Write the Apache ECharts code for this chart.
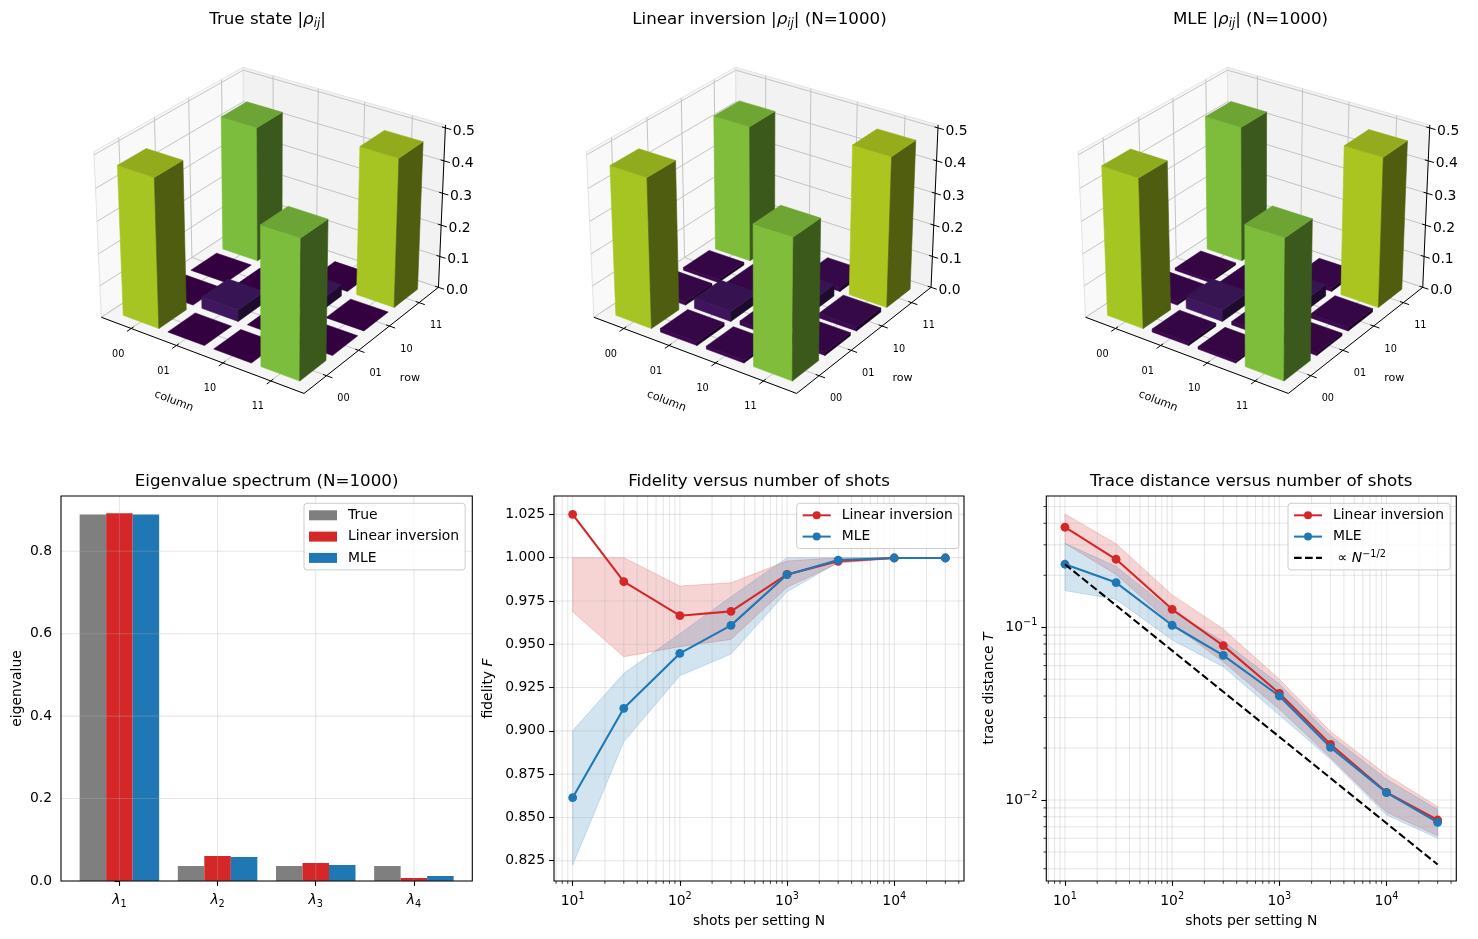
<!DOCTYPE html>
<html>
<head>
<meta charset="utf-8">
<script src="https://cdn.jsdelivr.net/npm/echarts@6.0.0/dist/echarts.min.js"></script>
<style>
html,body{margin:0;padding:0;background:#fff;}
#chart{width:1478px;height:939px;}
</style>
</head>
<body>
<div id="chart"></div>
<script>
// ================= DATA =================
const basisLabels = ['00', '01', '10', '11'];
// |rho_ij|, rows = row index, columns = column index
const rhoTrue = [
  [0.4635, 0.0, 0.0, 0.427],
  [0.0, 0.0364, 0.0, 0.0],
  [0.0, 0.0, 0.0364, 0.0],
  [0.427, 0.0, 0.0, 0.4635]
];
const rhoLin = [
  [0.463, 0.011, 0.009, 0.430],
  [0.011, 0.032, 0.012, 0.010],
  [0.009, 0.012, 0.037, 0.013],
  [0.430, 0.010, 0.013, 0.468]
];
const rhoMle = [
  [0.462, 0.009, 0.007, 0.428],
  [0.009, 0.036, 0.010, 0.008],
  [0.007, 0.010, 0.036, 0.011],
  [0.428, 0.008, 0.011, 0.466]
];
const zTickValues = [0, 0.1, 0.2, 0.3, 0.4, 0.5];

const eigLabels = ['1', '2', '3', '4'];
const eigTrue = [0.889, 0.0364, 0.0364, 0.0364];
const eigLin = [0.892, 0.0607, 0.0437, 0.0073];
const eigMle = [0.889, 0.0583, 0.0389, 0.0121];
const eigTicks = [0, 0.2, 0.4, 0.6, 0.8];

const shots = [10, 30, 100, 300, 1000, 3000, 10000, 30000];
const fidLin   = [1.025, 0.9861, 0.9665, 0.9690, 0.9903, 0.9979, 0.9998, 0.9998];
const fidLinLo = [0.9688, 0.9428, 0.9486, 0.9528, 0.9829, 0.9968, 0.9995, 0.9997];
const fidLinHi = [1.000, 1.000, 0.9836, 0.9855, 0.9980, 1.000, 1.000, 1.000];
const fidMle   = [0.8614, 0.9130, 0.9447, 0.9609, 0.9902, 0.9986, 0.9998, 0.9998];
const fidMleLo = [0.8225, 0.8937, 0.9318, 0.9443, 0.9803, 0.9972, 0.9995, 0.9997];
const fidMleHi = [0.9001, 0.9332, 0.9561, 0.9774, 1.000, 1.000, 1.000, 1.000];
const fidTicks = [0.825, 0.850, 0.875, 0.900, 0.925, 0.950, 0.975, 1.000, 1.025];

const trLin   = [0.3795, 0.2476, 0.1271, 0.0783, 0.04147, 0.02101, 0.01108, 0.00766];
const trLinLo = [0.305, 0.202, 0.104, 0.063, 0.0335, 0.0176, 0.0085, 0.0062];
const trLinHi = [0.453, 0.304, 0.154, 0.0977, 0.0500, 0.0249, 0.0140, 0.00915];
const trMle   = [0.2317, 0.1814, 0.1027, 0.0688, 0.0400, 0.02018, 0.01103, 0.00743];
const trMleLo = [0.163, 0.145, 0.0844, 0.0591, 0.0310, 0.0172, 0.0082, 0.0060];
const trMleHi = [0.306, 0.225, 0.124, 0.083, 0.0470, 0.0236, 0.0132, 0.0088];
const trRef   = [0.2317, 0.1338, 0.0733, 0.0423, 0.0232, 0.0134, 0.00733, 0.00423];

const shotMajor = [10, 100, 1000, 10000];
const shotMinor = [7, 8, 9, 20, 30, 40, 50, 60, 70, 80, 90, 200, 300, 400, 500, 600, 700, 800, 900,
  2000, 3000, 4000, 5000, 6000, 7000, 8000, 9000, 20000, 30000, 40000];
const trMajor = [0.01, 0.1];
const trMinor = [0.004, 0.005, 0.006, 0.007, 0.008, 0.009, 0.02, 0.03, 0.04, 0.05, 0.06, 0.07, 0.08, 0.09,
  0.2, 0.3, 0.4, 0.5];

// ================= STYLE / LAYOUT =================
const FONT = 'DejaVu Sans';
const RED = '#d62728', BLUE = '#1f77b4', GRAY = '#7f7f7f';
const GRID_C = 'rgba(176,176,176,0.3)';
const L10 = Math.log10;
const VIEW = { elev: 28, azim: -55, dist: 10, aspect: [1.143, 1.143, 0.878], k: 207.5, cy: 223.3, cx: [272, 764.6, 1256.3] };
const XYLIM = [-0.59, 3.59], ZLIM = [0, 0.5];
const XYPAD = [-0.677, 3.677], ZPAD = [0, 0.509];
const BAR_HALF = 0.4;
const CNORM = 0.515;
const EIG_W = 0.27;
const DASH_ICON = 'path://M0,0L0.02,0L0.02,0.02Z M0,10L0.02,10L0.02,9.98Z M0,3.96H7.7V6.04H0Z M11,3.96H18.7V6.04H11Z M22,3.96H28V6.04H22Z';

const VIRIDIS = ['#440154', '#471365', '#482475', '#463480', '#414487', '#3b528b', '#355f8d', '#2f6c8e', '#2a788e', '#25848e',
  '#21918c', '#1e9c89', '#22a884', '#2fb47c', '#44bf70', '#5ec962', '#7ad151', '#9bd93c', '#bddf26', '#dfe318', '#fde725'];
function hex2rgb(h) { return [parseInt(h.substr(1, 2), 16), parseInt(h.substr(3, 2), 16), parseInt(h.substr(5, 2), 16)]; }
function viridis(t) {
  t = Math.max(0, Math.min(1, t));
  const f = t * 20, i = Math.min(19, Math.floor(f)), r = f - i;
  const a = hex2rgb(VIRIDIS[i]), b = hex2rgb(VIRIDIS[i + 1]);
  return [0, 1, 2].map(j => a[j] + (b[j] - a[j]) * r);
}
function shade(rgb, k) { return 'rgb(' + rgb.map(c => Math.round(c * k)).join(',') + ')'; }

function projector(cx) {
  const e = VIEW.elev * Math.PI / 180, a = VIEW.azim * Math.PI / 180;
  const w = [Math.cos(e) * Math.cos(a), Math.cos(e) * Math.sin(a), Math.sin(e)];
  const u = [-Math.sin(a), Math.cos(a), 0];
  const v = [-Math.sin(e) * Math.cos(a), -Math.sin(e) * Math.sin(a), Math.cos(e)];
  const A = VIEW.aspect;
  return function (x, y, z) {
    const p = [(x - XYLIM[0]) / (XYLIM[1] - XYLIM[0]) * A[0] - A[0] / 2,
               (y - XYLIM[0]) / (XYLIM[1] - XYLIM[0]) * A[1] - A[1] / 2,
               (z - ZLIM[0]) / (ZLIM[1] - ZLIM[0]) * A[2] - A[2] / 2];
    const du = u[0] * p[0] + u[1] * p[1] + u[2] * p[2];
    const dv = v[0] * p[0] + v[1] * p[1] + v[2] * p[2];
    const dw = w[0] * p[0] + w[1] * p[1] + w[2] * p[2];
    const s = 1 - dw / VIEW.dist;
    return [cx + VIEW.k * du / s, VIEW.cy - VIEW.k * dv / s, dw];
  };
}

function textEl(x, y, text, size, rot, extra) {
  const st = Object.assign({ text: text, fill: '#000', fontSize: size, fontFamily: FONT,
    align: 'center', verticalAlign: 'middle', textAlign: 'center', textVerticalAlign: 'middle' }, extra || {});
  return { type: 'text', x: x, y: y, rotation: rot || 0, style: st };
}

function frameRender(proj) {
  return function () {
    const P = (x, y, z) => { const q = proj(x, y, z); return [q[0], q[1]]; };
    const X0 = XYPAD[0], X1 = XYPAD[1], Y0 = XYPAD[0], Y1 = XYPAD[1], Z0 = ZPAD[0], Z1 = ZPAD[1];
    const ch = [];
    const poly = (pts, fill) => ch.push({ type: 'polygon', shape: { points: pts }, style: { fill: fill, stroke: '#e4e4e4', lineWidth: 1 } });
    const seg = (a, b, stroke, lw) => ch.push({ type: 'line', shape: { x1: a[0], y1: a[1], x2: b[0], y2: b[1] }, style: { stroke: stroke, lineWidth: lw } });
    poly([P(X0, Y0, Z0), P(X1, Y0, Z0), P(X1, Y1, Z0), P(X0, Y1, Z0)], '#f5f5f5');
    poly([P(X0, Y0, Z0), P(X0, Y1, Z0), P(X0, Y1, Z1), P(X0, Y0, Z1)], '#f9f9f9');
    poly([P(X0, Y1, Z0), P(X1, Y1, Z0), P(X1, Y1, Z1), P(X0, Y1, Z1)], '#f2f2f2');
    const GC = '#c4c4c4';
    const ticks = basisLabels.map((_, i) => i);
    ticks.forEach(t => {
      seg(P(t, Y0, Z0), P(t, Y1, Z0), GC, 1);
      seg(P(X0, t, Z0), P(X1, t, Z0), GC, 1);
      seg(P(X0, t, Z0), P(X0, t, Z1), GC, 1);
      seg(P(t, Y1, Z0), P(t, Y1, Z1), GC, 1);
    });
    zTickValues.forEach(z => {
      seg(P(X0, Y0, z), P(X0, Y1, z), GC, 1);
      seg(P(X0, Y1, z), P(X1, Y1, z), GC, 1);
    });
    // axis lines
    seg(P(X0, Y0, Z0), P(X1, Y0, Z0), '#000', 1);
    seg(P(X1, Y0, Z0), P(X1, Y1, Z0), '#000', 1);
    seg(P(X1, Y1, Z0), P(X1, Y1, Z1), '#000', 1);
    // ticks + labels
    ticks.forEach(t => {
      seg(P(t, Y0 + 0.07, Z0), P(t, Y0 - 0.12, Z0), '#000', 1);
      const pc = P(t, Y0, Z0);
      ch.push(textEl(pc[0] - 13, pc[1] + 25.5, basisLabels[t], 9.7));
      seg(P(X1 - 0.07, t, Z0), P(X1 + 0.12, t, Z0), '#000', 1);
      const pr = P(X1, t, Z0);
      ch.push(textEl(pr[0] + 17, pr[1] + 23, basisLabels[t], 9.7));
    });
    zTickValues.forEach(z => {
      seg(P(X1 - 0.07, Y1, z), P(X1 + 0.12, Y1, z), '#000', 1);
      const pz = P(X1, Y1, z);
      ch.push(textEl(pz[0] + 18.5, pz[1] + 3, z.toFixed(1), 13.9));
    });
    const mc = P(1.5, Y0, Z0);
    ch.push(textEl(mc[0] - 25.7, mc[1] + 47, 'column', 11.1, -21 * Math.PI / 180));
    const mr = P(X1, 1.5, Z0);
    ch.push(textEl(mr[0] + 35.8, mr[1] + 40.2, 'row', 11.1));
    return { type: 'group', children: ch };
  };
}

function barsRender(proj) {
  return function (params, api) {
    const c = api.value(0), r = api.value(1), h = api.value(2);
    const x0 = c - BAR_HALF, x1 = c + BAR_HALF, y0 = r - BAR_HALF, y1 = r + BAR_HALF;
    const base = viridis(h / CNORM);
    const P = (x, y, z) => { const q = proj(x, y, z); return [q[0], q[1]]; };
    const faces = [];
    const face = (pts, k) => { const col = shade(base, k); faces.push({ type: 'polygon', shape: { points: pts }, style: { fill: col, stroke: col, lineWidth: 0.6 } }); };
    if (h > 0) {
      face([P(x0, y0, 0), P(x1, y0, 0), P(x1, y0, h), P(x0, y0, h)], 0.883);
      face([P(x1, y0, 0), P(x1, y1, 0), P(x1, y1, h), P(x1, y0, h)], 0.417);
    }
    face([P(x0, y0, h), P(x1, y0, h), P(x1, y1, h), P(x0, y1, h)], 0.767);
    faces.forEach((f, i) => { f.z2 = params.dataIndex * 4 + i; });
    return { type: 'group', children: faces };
  };
}

// 2D helpers
function decoRender(params, api) {
  const cs = params.coordSys;
  const kind = api.value(2);
  const pt = api.coord([api.value(0), api.value(1)]);
  const ch = [];
  const L = (x1, y1, x2, y2, stroke, lw) => ch.push({ type: 'line', shape: { x1, y1, x2, y2 }, style: { stroke: stroke, lineWidth: lw } });
  if (kind < 2) {
    const x = pt[0];
    L(x, cs.y, x, cs.y + cs.height, GRID_C, 1.1);
    if (kind === 1) L(x, cs.y + cs.height, x, cs.y + cs.height + 2.8, '#000', 0.8);
  } else {
    const y = pt[1];
    L(cs.x, y, cs.x + cs.width, y, GRID_C, 1.1);
    if (kind === 3) L(cs.x - 2.8, y, cs.x, y, '#000', 0.8);
  }
  return { type: 'group', children: ch };
}
function frame2dRender(params) {
  if (params.dataIndexInside !== 0) return;
  const cs = params.coordSys;
  return { type: 'rect', shape: { x: cs.x, y: cs.y, width: cs.width, height: cs.height }, style: { fill: 'none', stroke: '#000', lineWidth: 1.1 } };
}
function bandRender(color) {
  return function (params, api) {
    if (params.dataIndexInside !== 0) return;
    const n = params.dataInsideLength;
    const top = [], bot = [];
    for (let j = 0; j < n; j++) {
      const x = api.value(0, j);
      top.push(api.coord([x, api.value(2, j)]));
      bot.push(api.coord([x, api.value(1, j)]));
    }
    return { type: 'polygon', shape: { points: top.concat(bot.reverse()) }, style: { fill: color, stroke: color, lineWidth: 1 } };
  };
}
function eigBarRender(offset, color) {
  return function (params, api) {
    const i = api.value(0), v = api.value(1);
    const a = api.coord([i + offset - EIG_W / 2, v]);
    const b = api.coord([i + offset + EIG_W / 2, 0]);
    return { type: 'rect', shape: { x: a[0], y: a[1], width: b[0] - a[0], height: b[1] - a[1] }, style: { fill: color } };
  };
}

// ================= SERIES =================
const series = [];
[rhoTrue, rhoLin, rhoMle].forEach((rho, p) => {
  const proj = projector(VIEW.cx[p]);
  series.push({ type: 'custom', coordinateSystem: 'none', silent: true, z: 1, data: [[0]], renderItem: frameRender(proj) });
  const items = [];
  rho.forEach((row, r) => row.forEach((val, c) => items.push([c, r, val])));
  items.sort((a, b) => proj(a[0], a[1], 0)[2] - proj(b[0], b[1], 0)[2]);
  series.push({ type: 'custom', coordinateSystem: 'none', silent: true, z: 2, data: items, renderItem: barsRender(proj) });
});

function deco(gi, vMaj, vMin, hMaj, hMin, xRef, yRef) {
  const d = [];
  vMaj.forEach(v => d.push([v, yRef, 0]));
  vMin.forEach(v => d.push([v, yRef, 1]));
  hMaj.forEach(v => d.push([xRef, v, 2]));
  hMin.forEach(v => d.push([xRef, v, 3]));
  series.push({ type: 'custom', xAxisIndex: gi, yAxisIndex: gi, silent: true, z: 3, data: d, renderItem: decoRender });
  series.push({ type: 'custom', xAxisIndex: gi, yAxisIndex: gi, silent: true, z: 6, data: [[xRef, yRef]], renderItem: frame2dRender });
}

// eigenvalue bars
[[eigTrue, -EIG_W, GRAY, 'True#b'], [eigLin, 0, RED, 'Linear inversion#b'], [eigMle, EIG_W, BLUE, 'MLE#b']].forEach(s => {
  series.push({ type: 'custom', name: s[3], xAxisIndex: 0, yAxisIndex: 0, silent: true, z: 2, itemStyle: { color: s[2] },
    data: s[0].map((v, i) => [i, v]), renderItem: eigBarRender(s[1], s[2]) });
});
deco(0, eigLabels.map((_, i) => i), [], eigTicks, [], 1.5, 0.5);

// fidelity
const lx = shots.map(n => L10(n));
series.push({ type: 'custom', xAxisIndex: 1, yAxisIndex: 1, silent: true, z: 1, encode: { x: 0, y: [1, 2] },
  data: lx.map((x, i) => [x, fidLinLo[i], fidLinHi[i]]), renderItem: bandRender('rgba(214,39,40,0.2)') });
series.push({ type: 'custom', xAxisIndex: 1, yAxisIndex: 1, silent: true, z: 1, encode: { x: 0, y: [1, 2] },
  data: lx.map((x, i) => [x, fidMleLo[i], fidMleHi[i]]), renderItem: bandRender('rgba(31,119,180,0.2)') });
deco(1, shotMajor.map(L10), shotMinor.map(L10), fidTicks, [], 2.5, 0.9);
const lineBase = (name, xi, data, color) => ({ type: 'line', name: name, xAxisIndex: xi, yAxisIndex: xi, z: 4, silent: true,
  data: data, symbol: 'circle', symbolSize: 8.8, showSymbol: true, color: color,
  itemStyle: { color: color }, lineStyle: { color: color, width: 2.08 }, emphasis: { disabled: true } });
series.push(lineBase('Linear inversion#f', 1, lx.map((x, i) => [x, fidLin[i]]), RED));
series.push(lineBase('MLE#f', 1, lx.map((x, i) => [x, fidMle[i]]), BLUE));

// trace distance
series.push({ type: 'custom', xAxisIndex: 2, yAxisIndex: 2, silent: true, z: 1, encode: { x: 0, y: [1, 2] },
  data: lx.map((x, i) => [x, L10(trLinLo[i]), L10(trLinHi[i])]), renderItem: bandRender('rgba(214,39,40,0.2)') });
series.push({ type: 'custom', xAxisIndex: 2, yAxisIndex: 2, silent: true, z: 1, encode: { x: 0, y: [1, 2] },
  data: lx.map((x, i) => [x, L10(trMleLo[i]), L10(trMleHi[i])]), renderItem: bandRender('rgba(31,119,180,0.2)') });
deco(2, shotMajor.map(L10), shotMinor.map(L10), trMajor.map(L10), trMinor.map(L10), 2.5, -1.5);
series.push(lineBase('Linear inversion#t', 2, lx.map((x, i) => [x, L10(trLin[i])]), RED));
series.push(lineBase('MLE#t', 2, lx.map((x, i) => [x, L10(trMle[i])]), BLUE));
series.push({ type: 'line', name: 'ref#t', xAxisIndex: 2, yAxisIndex: 2, z: 5, silent: true, symbol: 'none', showSymbol: false, color: '#000',
  itemStyle: { color: '#000' },
  data: lx.map((x, i) => [x, L10(trRef[i])]), lineStyle: { color: '#000', width: 2.08, type: [7.7, 3.3] }, emphasis: { disabled: true } });

// ================= AXES =================
const tickLbl = { color: '#000', fontSize: 13.9, fontFamily: FONT };
const supRich = { b: { fontSize: 13.9, fontFamily: FONT, color: '#000' }, s: { fontSize: 9.7, fontFamily: FONT, color: '#000', padding: [0, 0, 10, 0] } };
function axisCommon(extra) {
  return Object.assign({
    axisLine: { show: false },
    splitLine: { show: false },
    axisTick: { show: true, length: 4.9, lineStyle: { color: '#000', width: 1.1 } },
    axisLabel: Object.assign({ margin: 9 }, tickLbl)
  }, extra);
}
const gridDefs = [
  { left: 61, top: 496, width: 411.3, height: 385 },
  { left: 554, top: 496, width: 410, height: 385 },
  { left: 1046.3, top: 496, width: 410, height: 385 }
].map(g => Object.assign({ containLabel: false, outerBoundsMode: 'none', show: false }, g));

const xAxes = [
  axisCommon({ type: 'value', gridIndex: 0, min: -0.595, max: 3.595,
    axisTick: { show: true, length: 4.9, lineStyle: { color: '#000', width: 1.1 }, customValues: eigLabels.map((_, i) => i) },
    axisLabel: { margin: 10, customValues: eigLabels.map((_, i) => i),
      formatter: v => '{l|λ}{s|' + eigLabels[Math.round(v)] + '}',
      rich: { l: { fontSize: 13.9, fontFamily: FONT, fontStyle: 'italic', color: '#000' },
              s: { fontSize: 9.7, fontFamily: FONT, color: '#000', padding: [8, 0, 0, 0] } } } }),
  axisCommon({ type: 'value', gridIndex: 1, min: 0.826, max: 4.651,
    axisTick: { show: true, length: 4.9, lineStyle: { color: '#000', width: 1.1 }, customValues: shotMajor.map(L10) },
    axisLabel: { margin: 10, customValues: shotMajor.map(L10), formatter: v => '{b|10}{s|' + Math.round(v) + '}', rich: supRich },
    name: 'shots per setting N', nameLocation: 'middle', nameGap: 33.5, nameTextStyle: tickLbl }),
  axisCommon({ type: 'value', gridIndex: 2, min: 0.826, max: 4.651,
    axisTick: { show: true, length: 4.9, lineStyle: { color: '#000', width: 1.1 }, customValues: shotMajor.map(L10) },
    axisLabel: { margin: 10, customValues: shotMajor.map(L10), formatter: v => '{b|10}{s|' + Math.round(v) + '}', rich: supRich },
    name: 'shots per setting N', nameLocation: 'middle', nameGap: 33.5, nameTextStyle: tickLbl })
];
const yAxes = [
  axisCommon({ type: 'value', gridIndex: 0, min: 0, max: 0.934,
    axisTick: { show: true, length: 4.9, lineStyle: { color: '#000', width: 1.1 }, customValues: eigTicks },
    axisLabel: Object.assign({ margin: 9, customValues: eigTicks, formatter: v => v.toFixed(1) }, tickLbl),
    name: 'eigenvalue', nameLocation: 'middle', nameRotate: 90, nameGap: 37, nameTextStyle: tickLbl }),
  axisCommon({ type: 'value', gridIndex: 1, min: 0.8133, max: 1.0356,
    axisTick: { show: true, length: 4.9, lineStyle: { color: '#000', width: 1.1 }, customValues: fidTicks },
    axisLabel: Object.assign({ margin: 9, customValues: fidTicks, formatter: v => v.toFixed(3) }, tickLbl),
    name: 'fidelity {i|F}', nameLocation: 'middle', nameRotate: 90, nameGap: 58.5,
    nameTextStyle: Object.assign({ rich: { i: { fontStyle: 'italic', fontSize: 13.9, fontFamily: FONT, color: '#000' } } }, tickLbl) }),
  axisCommon({ type: 'value', gridIndex: 2, min: -2.469, max: -0.240,
    axisTick: { show: true, length: 4.9, lineStyle: { color: '#000', width: 1.1 }, customValues: trMajor.map(L10) },
    axisLabel: { margin: 9, customValues: trMajor.map(L10), formatter: v => '{b|10}{s|−' + Math.abs(Math.round(v)) + '}', rich: supRich },
    name: 'trace distance {i|T}', nameLocation: 'middle', nameRotate: 90, nameGap: 50,
    nameTextStyle: Object.assign({ rich: { i: { fontStyle: 'italic', fontSize: 13.9, fontFamily: FONT, color: '#000' } } }, tickLbl) })
];

// ================= LEGENDS =================
const legendBase = {
  orient: 'vertical', itemWidth: 28, itemHeight: 10, itemGap: 5.3, padding: [4, 6, 4, 5],
  backgroundColor: 'rgba(255,255,255,0.8)', borderColor: '#cccccc', borderWidth: 1, borderRadius: 3,
  selectedMode: false,
  textStyle: { fontFamily: FONT, fontSize: 13.9, color: '#000', lineHeight: 16, padding: [0, 0, 0, 6],
    rich: { i: { fontStyle: 'italic', fontSize: 13.9, fontFamily: FONT, color: '#000' },
            s: { fontSize: 9.7, fontFamily: FONT, color: '#000', padding: [0, 0, 6, 0] } } },
  formatter: name => name === 'ref#t' ? ' ∝ {i|N}{s|−1/2}' : name.split('#')[0]
};
const legends = [
  Object.assign({}, legendBase, { left: 304, top: 503.3,
    data: [{ name: 'True#b', icon: 'rect' }, { name: 'Linear inversion#b', icon: 'rect' }, { name: 'MLE#b', icon: 'rect' }] }),
  Object.assign({}, legendBase, { left: 796.7, top: 503.3, data: ['Linear inversion#f', 'MLE#f'] }),
  Object.assign({}, legendBase, { left: 1288, top: 503.3,
    data: ['Linear inversion#t', 'MLE#t', { name: 'ref#t', icon: DASH_ICON, itemStyle: { color: '#000', borderWidth: 0 } }] })
];

// ================= TITLES =================
const titleRich = { i: { fontStyle: 'italic', fontSize: 16.7, fontFamily: FONT, fill: '#000', color: '#000' },
                    s: { fontStyle: 'italic', fontSize: 11.7, fontFamily: FONT, fill: '#000', color: '#000', padding: [7, 0, 0, 0] } };
const titles = [
  [267.5, 20, 'True state |{i|ρ}{s|ij}|'],
  [759.5, 20, 'Linear inversion |{i|ρ}{s|ij}| (N=1000)'],
  [1250.5, 20, 'MLE |{i|ρ}{s|ij}| (N=1000)'],
  [266.6, 482, 'Eigenvalue spectrum (N=1000)'],
  [759, 482, 'Fidelity versus number of shots'],
  [1251.3, 482, 'Trace distance versus number of shots']
];
const graphic = titles.map(t => ({ type: 'text', x: t[0], y: t[1], silent: true, z: 10,
  style: { text: t[2], fill: '#000', fontSize: 16.7, fontFamily: FONT, align: 'center', verticalAlign: 'middle',
    textAlign: 'center', textVerticalAlign: 'middle', rich: titleRich } }));

const option = {
  animation: false,
  backgroundColor: '#fff',
  textStyle: { fontFamily: FONT },
  grid: gridDefs,
  xAxis: xAxes,
  yAxis: yAxes,
  legend: legends,
  graphic: graphic,
  series: series
};
const chart = echarts.init(document.getElementById('chart'), null, { renderer: 'canvas' });
chart.setOption(option);
</script>
</body>
</html>
